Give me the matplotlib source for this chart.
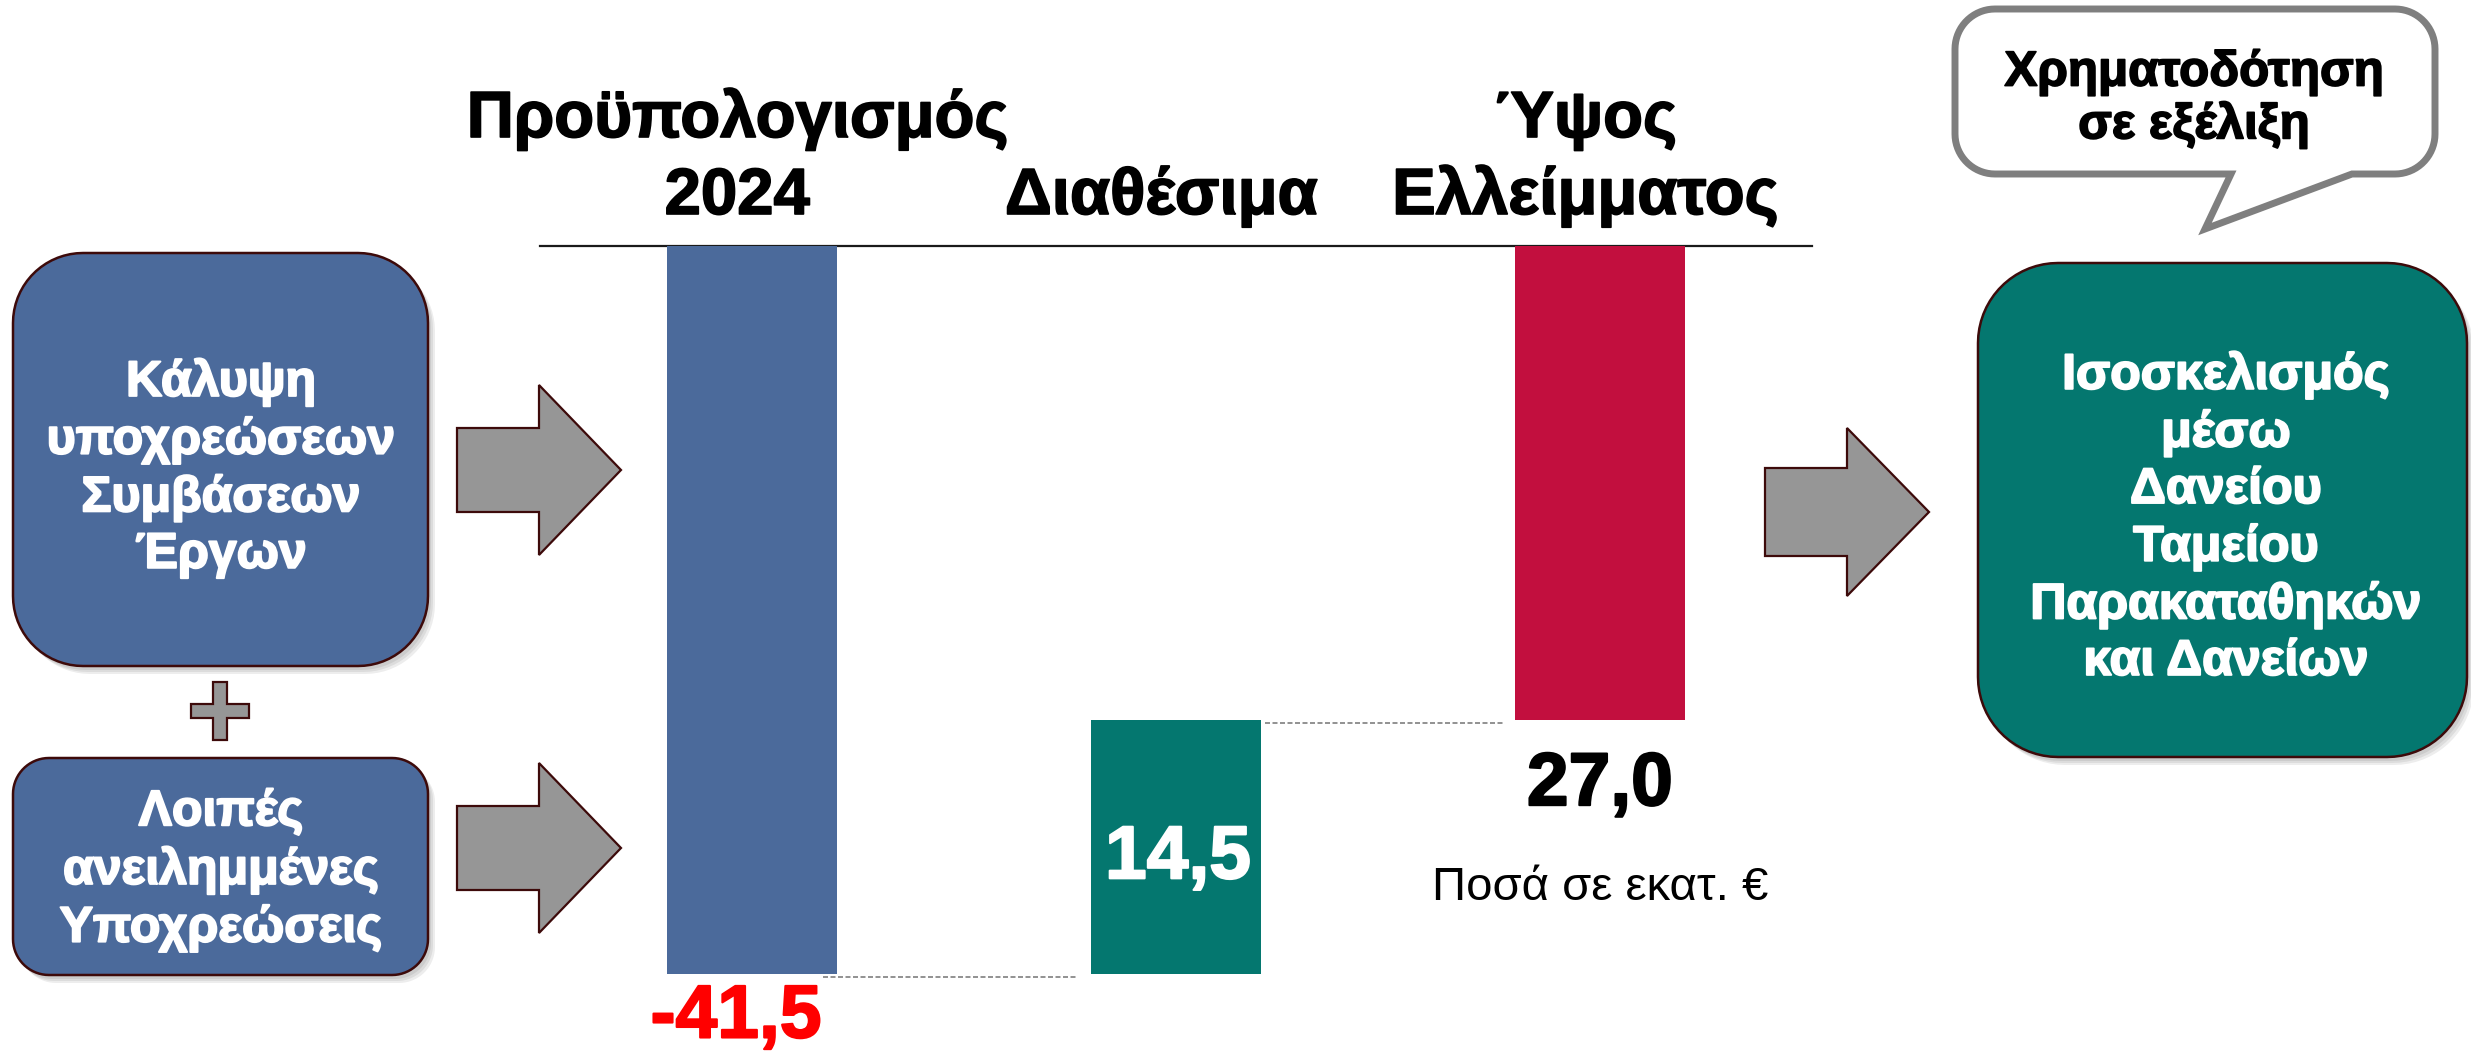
import numpy as np
import matplotlib
matplotlib.use("Agg")
import matplotlib.pyplot as plt
from matplotlib.patches import Polygon
from matplotlib import transforms
import matplotlib.patheffects as pe

# ---------------- data ----------------
categories = ["Προϋπολογισμός\n2024", "Διαθέσιμα", "Ύψος\nΕλλείμματος"]
values = [-41.5, 14.5, 27.0]
value_labels = ["-41,5", "14,5", "27,0"]
bar_colors = ["#4B6A9B", "#04776F", "#C20F3E"]
label_colors = ["#FF0000", "#FFFFFF", "#000000"]
left_boxes = ["Κάλυψη\nυποχρεώσεων\nΣυμβάσεων\nΈργων",
              "Λοιπές\nανειλημμένες\nΥποχρεώσεις"]
right_box = "Ισοσκελισμός\nμέσω\nΔανείου\nΤαμείου\nΠαρακαταθηκών\nκαι Δανείων"
bubble_text = "Χρηματοδότηση\nσε εξέλιξη"
unit_note = "Ποσά σε εκατ. €"

W, H = 2471, 1054
fig = plt.figure(figsize=(W / 100, H / 100), dpi=100)
fig.patch.set_facecolor("white")

# overlay axes in pixel coordinates (y downwards)
ov = fig.add_axes([0, 0, 1, 1])
ov.set_xlim(0, W)
ov.set_ylim(H, 0)
ov.axis("off")

EDGE = "#3d0a0a"
GRAY = "#969696"
BOXFONT = "Liberation Sans"


def rrect(x0, y0, x1, y1, r, n=18, tail=None):
    pts = []
    def arc(cx, cy, a0, a1):
        for t in np.linspace(np.radians(a0), np.radians(a1), n):
            pts.append((cx + r * np.cos(t), cy + r * np.sin(t)))
    arc(x1 - r, y0 + r, -90, 0)
    arc(x1 - r, y1 - r, 0, 90)
    if tail is not None:
        pts.extend(tail)
    arc(x0 + r, y1 - r, 90, 180)
    arc(x0 + r, y0 + r, 180, 270)
    return pts


def box(x0, y0, x1, y1, r, color):
    pts = rrect(x0, y0, x1, y1, r)
    for k, (dx, dy) in enumerate([(7, 8), (5, 6), (3, 4)]):
        sh = [(px + dx, py + dy) for px, py in pts]
        ov.add_patch(Polygon(sh, closed=True, facecolor="black", alpha=0.07,
                             edgecolor="none", zorder=1))
    ov.add_patch(Polygon(pts, closed=True, facecolor=color, edgecolor=EDGE,
                         linewidth=1.8, zorder=2))


def arrow(x0, x1, x2, yc, hs, hh):
    pts = [(x0, yc - hs), (x1, yc - hs), (x1, yc - hh), (x2, yc),
           (x1, yc + hh), (x1, yc + hs), (x0, yc + hs)]
    ov.add_patch(Polygon(pts, closed=True, facecolor=GRAY, edgecolor=EDGE,
                         linewidth=1.6, zorder=2))


# left boxes
box(13, 253, 428, 666, 70, "#4B6A9B")
box(13, 758, 428, 975, 36, "#4B6A9B")
box_font = dict(family=BOXFONT, weight="bold", color="white",
                ha="center", va="center", fontsize=36, linespacing=1.29, zorder=3,
                path_effects=[pe.withStroke(linewidth=1.4, foreground="white")])
ov.text(221, 468, left_boxes[0], **box_font)
ov.text(221, 870, left_boxes[1], **box_font)

# plus sign
cx, cy, a, t = 220, 711, 29, 7
plus = [(cx - t, cy - a), (cx + t, cy - a), (cx + t, cy - t), (cx + a, cy - t),
        (cx + a, cy + t), (cx + t, cy + t), (cx + t, cy + a), (cx - t, cy + a),
        (cx - t, cy + t), (cx - a, cy + t), (cx - a, cy - t), (cx - t, cy - t)]
ov.add_patch(Polygon(plus, closed=True, facecolor=GRAY, edgecolor=EDGE,
                     linewidth=1.6, zorder=2))

# arrows
arrow(457, 539, 621, 470, 42, 85)
arrow(457, 539, 621, 848, 42, 85)
arrow(1765, 1847, 1929, 512, 44, 84)

# right box
box(1978, 263, 2467, 757, 80, "#04776F")
ov.text(2226, 518, right_box, **box_font)

# speech bubble
bpts = rrect(1955, 9, 2435, 174, 40, tail=[(2352, 174), (2205, 229), (2231, 174)])
ov.add_patch(Polygon(bpts, closed=True, facecolor="white", edgecolor="#7f7f7f",
                     linewidth=5, joinstyle="miter", zorder=2))
ov.text(2194, 99, bubble_text, family=BOXFONT, weight="bold", color="black",
        ha="center", va="center", fontsize=35.5, linespacing=1.19, zorder=3,
        path_effects=[pe.withStroke(linewidth=1.2, foreground="black")])

# ---------------- waterfall bars ----------------
ax = fig.add_axes([540 / W, 0, 1272 / W, 808 / H])
ax.patch.set_alpha(0)
x = np.arange(len(values))
starts = np.concatenate([[0.0], np.cumsum(values)[:-1]])
ax.bar(x, values, bottom=starts, width=0.4, color=bar_colors, zorder=3)
ax.set_xlim(-0.5, 2.5)
ax.set_ylim(-46.06, 0)
for s in ["left", "right", "bottom"]:
    ax.spines[s].set_visible(False)
ax.spines["top"].set_linewidth(1.6)
ax.spines["top"].set_color("#1a1a1a")
ax.set_xticks([])
ax.set_yticks([])

# connectors
tr = transforms.offset_copy(ax.transData, fig=fig, x=0, y=-3, units="dots")
ends = np.cumsum(values)
ax.plot([0.167, 0.767], [ends[0], ends[0]], transform=tr, color="#7f7f7f",
        lw=1.2, ls=(0, (3, 1.5)), zorder=2)
ax.plot([1.21, 1.774], [ends[1], ends[1]], transform=tr, color="#7f7f7f",
        lw=1.2, ls=(0, (3, 1.5)), zorder=2)

# value labels
num_font = dict(family="Liberation Sans", weight="bold", fontsize=54,
                ha="center", va="center", zorder=4)
ax.annotate(value_labels[0], xy=(x[0], starts[0] + values[0]), xytext=(-16, -44),
            textcoords="offset pixels", color=label_colors[0],
            path_effects=[pe.withStroke(linewidth=1.5, foreground=label_colors[0])],
            **num_font)
ax.annotate(value_labels[1], xy=(x[1], starts[1] + values[1] / 2), xytext=(2, -12),
            textcoords="offset pixels", color=label_colors[1],
            path_effects=[pe.withStroke(linewidth=1.5, foreground=label_colors[1])],
            **num_font)
ax.annotate(value_labels[2], xy=(x[2], starts[2]), xytext=(0, -66),
            textcoords="offset pixels", color=label_colors[2],
            path_effects=[pe.withStroke(linewidth=1.5, foreground=label_colors[2])],
            **num_font)

# category headers (x from data, y in pixels)
btr = transforms.blended_transform_factory(ax.transData, ov.transData)
for i, cat in enumerate(categories):
    lines = cat.split("\n")
    for k, line in enumerate(reversed(lines)):
        ax.text(x[i] - 0.035, 214 - 77 * k, line, transform=btr,
                family="Liberation Sans", weight="bold", fontsize=47,
                ha="center", va="baseline", color="black",
                path_effects=[pe.withStroke(linewidth=1.2, foreground="black")])

ov.text(1600, 888, unit_note, family="Liberation Sans", fontsize=34,
        ha="center", va="center", color="black")

fig.savefig("out.png", dpi=100, facecolor="white")
